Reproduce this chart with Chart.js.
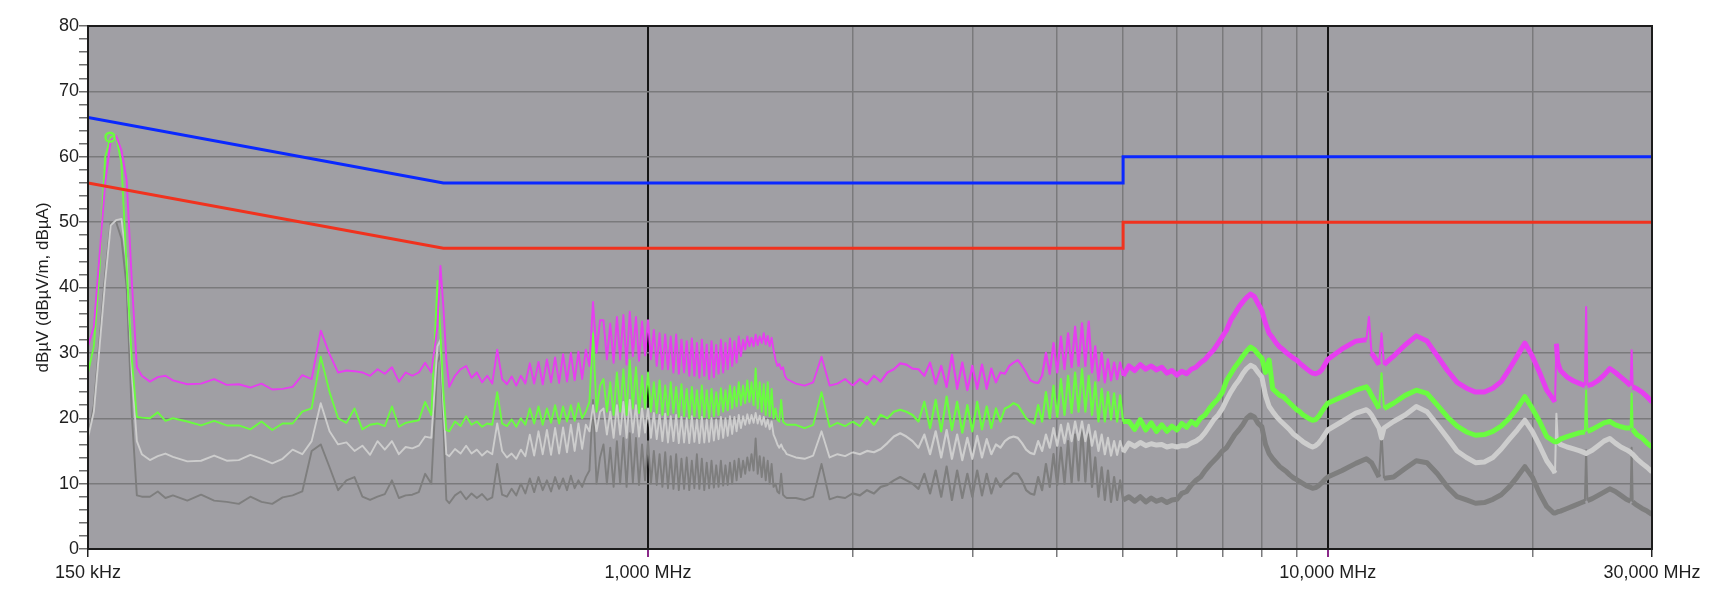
<!DOCTYPE html>
<html>
<head>
<meta charset="utf-8">
<script src="https://cdn.jsdelivr.net/npm/chart.js@4/dist/chart.umd.min.js"></script>
<style>
  body { margin: 0; background: #ffffff; }
  #wrap { width: 1726px; height: 614px; }
</style>
</head>
<body>
<div id="wrap"><canvas id="grafico" width="1726" height="614"></canvas></div>
<script>
// sweep frequencies, MHz
var freq = [
    0.150, 0.153, 0.156, 0.159, 0.162, 0.165, 0.168, 0.171, 0.174, 0.177, 0.180, 0.185, 0.190, 0.195, 0.200,
    0.21, 0.22, 0.23, 0.24, 0.25, 0.26, 0.27, 0.28, 0.29, 0.30, 0.31, 0.32, 0.33, 0.34, 0.35, 0.36, 0.37, 0.38, 0.39, 0.40,
    0.41, 0.42, 0.43, 0.44, 0.45, 0.46, 0.47, 0.48, 0.49, 0.495, 0.50, 0.505, 0.51,
    0.52, 0.53, 0.54, 0.55, 0.56, 0.57, 0.58, 0.59, 0.60, 0.61, 0.62, 0.63, 0.64, 0.65, 0.66, 0.67, 0.68, 0.69, 0.70,
    0.71, 0.72, 0.73, 0.74, 0.75, 0.76, 0.77, 0.78, 0.79, 0.80, 0.81, 0.82, 0.83, 0.84, 0.85,
    0.86, 0.87, 0.88, 0.89, 0.90, 0.91, 0.92, 0.93, 0.94, 0.95, 0.96, 0.97, 0.98, 0.99, 1.00,
    1.01, 1.02, 1.03, 1.04, 1.05, 1.06, 1.07, 1.08, 1.09, 1.10,
    1.11, 1.12, 1.13, 1.14, 1.15, 1.16, 1.17, 1.18, 1.19, 1.20,
    1.21, 1.22, 1.23, 1.24, 1.25, 1.26, 1.27, 1.28, 1.29, 1.30,
    1.31, 1.32, 1.33, 1.34, 1.35, 1.36, 1.37, 1.38, 1.39, 1.40,
    1.41, 1.42, 1.43, 1.44, 1.45, 1.46, 1.47, 1.48, 1.49, 1.50,
    1.51, 1.52, 1.53, 1.54, 1.55, 1.56, 1.57, 1.58, 1.59, 1.60,
    1.65, 1.70, 1.75, 1.80, 1.85, 1.90, 1.95, 2.00,
    2.05, 2.10, 2.15, 2.20, 2.25, 2.30, 2.35, 2.40, 2.45, 2.50, 2.55, 2.60, 2.65, 2.70, 2.75, 2.80, 2.85, 2.90, 2.95, 3.00,
    3.05, 3.10, 3.15, 3.20, 3.25, 3.30, 3.35, 3.40, 3.45, 3.50, 3.55, 3.60, 3.65, 3.70, 3.75, 3.80, 3.85, 3.90, 3.95, 4.00,
    4.05, 4.10, 4.15, 4.20, 4.25, 4.30, 4.35, 4.40, 4.45, 4.50, 4.55, 4.60, 4.65, 4.70, 4.75, 4.80, 4.85, 4.90, 4.95, 5.00,
    5.1, 5.2, 5.3, 5.4, 5.5, 5.6, 5.7, 5.8, 5.9, 6.0,
    6.1, 6.2, 6.3, 6.4, 6.5, 6.6, 6.7, 6.8, 6.9, 7.0,
    7.1, 7.2, 7.3, 7.4, 7.5, 7.6, 7.7, 7.8, 7.9, 8.0,
    8.1, 8.2, 8.3, 8.4, 8.5, 8.6, 8.7, 8.8, 8.9, 9.0,
    9.1, 9.2, 9.3, 9.4, 9.5, 9.6, 9.7, 9.8, 9.9, 10.0,
    10.5, 11, 11.4, 11.5, 11.6, 11.9, 12, 12.1, 12.5, 13,
    13.5, 14, 14.5, 15, 15.5, 16, 16.5, 17, 17.5, 18,
    18.5, 19, 19.5, 20, 20.5, 21, 21.5, 21.6, 21.7, 21.8,
    22, 22.5, 23, 23.5, 23.9, 24, 24.1, 24.5, 25, 25.5,
    26, 26.5, 27, 27.5, 27.9, 28, 28.1, 28.5, 29, 29.5,
    30
];

// magenta trace, dBuV
var peakTrace = [
    31, 34, 45, 56, 62.5, 63.2, 61, 56.4, 41, 27.8, 26.5, 25.6, 26.3, 26.5, 25.8,
    25.2, 25.3, 26, 25.1, 25.2, 24.7, 25.3, 24.4, 24.5, 24.8, 26.6, 26, 33.4, 29.8, 27, 27.3, 27.2, 27, 26.5, 27.5,
    26.8, 27.8, 25.6, 27, 26.5, 27, 28.5, 27, 34, 43.3, 37, 29, 24.8,
    26.5, 27.5, 28, 26.2, 27, 25.5, 26.5, 25.3, 30.5, 26, 25.2, 26.4, 25, 26.5, 25.3, 28.4, 25.3, 28.6, 25.2,
    29, 25.5, 29.3, 25.4, 29.8, 25.6, 30, 25.8, 30.2, 26, 30.5, 28, 37.8, 30, 35,
    35, 29, 34.5, 28.5, 35.5, 29, 35.8, 28.2, 36.3, 29.5, 35.5, 28.8, 34.8, 29.6, 35,
    29, 33.5, 28, 33, 27.5, 32.8, 27.5, 32.5, 27, 32.8,
    26.8, 32, 27, 31.8, 26.5, 32.2, 26.5, 31.5, 26.2, 32,
    26.5, 31.3, 26, 31.8, 26.3, 31.2, 26.8, 32, 27, 31.5,
    27.5, 32.2, 28, 31.8, 28.5, 32.5, 29.5, 32, 30.5, 32.5,
    31, 32.3, 31, 32.8, 31.2, 32.5, 31.5, 33, 31.3, 32.6,
    31, 32.3, 30.5, 29, 28, 28.3, 27.5, 27.8, 26.5, 26,
    25.3, 25, 25.5, 29.4, 25, 25.3, 26, 25,
    26, 25.2, 26.5, 25.6, 27, 27.5, 28.4, 28.2, 27.6, 27.5, 26.5, 28.5, 25.3, 28, 24.8, 29.7, 24.5, 28.5, 24.3, 28,
    24.5, 28.2, 24.5, 27.6, 25.5, 27, 26.8, 28, 28.5, 28.9, 28, 27, 25.8, 25.5, 25.4, 26.5, 30, 26.8, 31.5, 27,
    32.5, 27.5, 33, 27.8, 34, 28, 34.5, 28, 34.8, 27, 31, 25.8, 30, 25.5, 29, 25.8, 28.5, 26, 28.5, 26.5,
    28, 27.3, 28.2, 27.5, 28, 27.4, 27.8, 26.9, 27.3, 26.6,
    27.2, 26.8, 27.5, 27.8, 28.5, 29, 29.8, 30.5, 31.5, 32.5,
    33.5, 35, 36, 37, 37.8, 38.5, 39, 38.6, 37.5, 36.5,
    34.5, 33, 32.3, 31.5, 30.9, 30.5, 30, 29.6, 29.2, 28.9,
    28.4, 28, 27.6, 27.2, 26.9, 26.8, 27, 27.4, 28.2, 29,
    30.6, 31.8, 32, 35.5, 30, 28.2, 33, 28.2, 29.5, 31.2,
    32.6, 31.8, 29.5, 27.3, 25.5, 24.6, 24, 24, 24.6, 25.6,
    27.5, 29.5, 31.5, 29.5, 27, 24.3, 22.8, 22.5, 31.4, 28.5,
    27.3, 26.3, 25.7, 25.3, 25, 37, 25, 25.2, 25.8, 26.6,
    27.6, 27, 26.3, 25.6, 25, 30.4, 24.8, 24.5, 24, 23.3,
    22.5
];

// green trace
var qpTrace = [
    27, 31, 43, 60, 63, 63.2, 59, 43, 29, 20.2, 20.1, 20, 20.9, 19.6, 20,
    19.5, 18.9, 19.6, 18.9, 18.9, 18.3, 19.5, 18.2, 19.2, 19.2, 21, 21.5, 29.4, 24, 20, 19.3, 21.5, 18.3, 19, 19.2,
    18.8, 21.8, 18.7, 19.3, 19.5, 19.7, 22.5, 20.5, 41, 33, 24, 18.2, 18,
    19.5, 18.8, 20.3, 19, 19.5, 18.7, 19.2, 19, 24, 19.2, 18.8, 19.8, 18.7, 20, 19, 21.5, 19.2, 21.8, 19,
    21.5, 19.3, 22, 19.2, 21.8, 19.5, 22, 19.6, 22.3, 20, 21, 22.5, 33, 21, 25,
    26, 21, 25.5, 20.5, 27, 21, 27.5, 20.5, 28.9, 21.5, 27.8, 20.8, 26.5, 21.5, 27,
    21, 25.5, 20.8, 25.8, 20.5, 25, 20.5, 25.5, 20.8, 24.8,
    20.2, 25.2, 20.3, 24.5, 20, 24.8, 20.3, 24.3, 20, 25,
    20.2, 24.3, 20, 24.5, 20.3, 24, 20.5, 24.6, 21, 24.3,
    21.2, 25, 21.5, 24.8, 21.8, 25.5, 22, 25, 22.3, 25.8,
    22.5, 25.5, 22, 27.6, 21.5, 25.5, 21, 25.2, 20.5, 25.5,
    20.3, 24.5, 20, 21.5, 19.8, 19.5, 22.8, 19.5, 19.2, 19,
    19, 18.5, 19, 24, 18.7, 19.3, 18.8, 19.5,
    18.8, 20.2, 19, 20.5, 20, 21, 21.3, 21, 20.5, 19.5, 22.5, 18.5, 22.8, 18, 23.3, 18.2, 22.5, 17.8, 22, 18,
    22.5, 18.3, 21.8, 18.5, 21.5, 19.5, 21.5, 21.8, 22.3, 22, 21, 20, 19.5, 19.2, 22, 19.5, 24, 20, 25, 20.2,
    26, 20.5, 26.5, 20.8, 27, 21, 27.5, 21, 26.5, 20.5, 25.5, 19.5, 24.5, 19.5, 24, 19.8, 23.8, 19.5, 23.5, 19.5,
    19.5, 18.3, 19.8, 18.2, 19.3, 18, 19, 18, 18.8, 18.2,
    19.2, 18.6, 19.5, 19, 20, 20.5, 21.5, 22.3, 23, 24,
    25.8, 26.8, 27.8, 28.6, 29.5, 30.3, 30.9, 30.5, 29.8, 29.2,
    27, 28.9, 24.5, 24, 23.5, 23.3, 22.8, 22.3, 21.8, 21.3,
    21, 20.5, 20.2, 19.9, 19.7, 19.8, 20.3, 21, 21.7, 22.3,
    23.3, 24.3, 24.8, 24.3, 23.5, 21.5, 26.9, 21.5, 22.3, 23.5,
    24.3, 23.8, 22, 20.2, 18.8, 17.9, 17.4, 17.5, 18, 18.8,
    20, 21.5, 23.3, 21.5, 19.5, 17.2, 16.5, 16.4, 16.4, 16.5,
    16.8, 17.2, 17.5, 17.8, 17.9, 24.3, 18, 18.3, 18.8, 19.3,
    19.5, 19, 18.7, 18.5, 18.5, 23.8, 18.3, 17.5, 17, 16.2,
    15.6
];

// light grey trace
var avTrace = [
    17, 21, 31, 41, 49.5, 50.3, 50.5, 44, 27, 16.5, 14.5, 13.6, 14.2, 14.6, 14.1,
    13.4, 13.5, 14.3, 13.5, 13.6, 14.4, 13.8, 13.1, 13.8, 15.2, 14.5, 16.5, 22.3, 18, 16, 16.3, 15, 15.8, 14.4, 16.5,
    15.2, 16.5, 14.5, 15.6, 15.4, 15.8, 17.2, 17, 31, 32, 22, 14.5, 14.2,
    15.3, 14.6, 15.8, 14.6, 15.2, 14.3, 15, 14.5, 19.2, 15, 14, 14.6, 13.8, 15.2, 14.2, 17.5, 14.3, 18, 14.5,
    18.2, 14.4, 18.5, 14.6, 18.6, 14.8, 19, 15, 19.2, 15.3, 19, 18, 22, 18, 21,
    21.5, 17.5, 21, 17, 22, 17.5, 22.5, 17, 22.8, 17.8, 22, 17.2, 21.5, 17.8, 21.5,
    17, 20.8, 16.8, 20.5, 16.5, 20.7, 16.3, 20.3, 16.5, 20.5,
    16.2, 20.2, 16.3, 20, 16.2, 20.3, 16.4, 19.8, 16.2, 20.2,
    16.3, 19.8, 16.4, 20, 16.6, 19.8, 16.8, 20.2, 17, 20,
    17.3, 20.3, 17.6, 20.2, 18, 20.5, 18.5, 20.3, 19, 20.6,
    19.2, 20.5, 19.3, 20.8, 19.2, 20.4, 19, 20.2, 18.7, 19.8,
    18.3, 19.5, 17.5, 16.8, 16, 15.5, 16, 15.3, 15, 14.5,
    14, 13.8, 14.3, 18, 14, 14.5, 14.2, 14.8,
    14.5, 15, 14.8, 15.3, 16.2, 17.2, 17.7, 17.2, 16.5, 15.5, 17.5, 14.5, 18, 14, 18.2, 13.8, 17.5, 13.6, 17, 13.8,
    17.3, 14, 16.8, 14.5, 16, 15.5, 16.5, 17, 17.2, 17, 16.2, 15.2, 14.7, 14.5, 16.5, 15, 17.5, 15.5, 18.5, 15.8,
    19, 16.2, 19.2, 16.5, 19.5, 16.7, 19.5, 16.5, 19, 15.8, 18, 15, 17.5, 14.5, 17, 14.3, 16.5, 14.4, 16.5, 14.8,
    16.2, 15.7, 16.3, 15.8, 16.1, 15.9, 16, 15.6, 15.8, 15.6,
    15.8, 15.8, 16.2, 16.5, 17, 17.8, 18.8, 19.8, 20.5, 21.5,
    22.8, 24, 25, 25.8, 26.8, 27.6, 28.1, 27.8, 27, 26.3,
    23.5, 21.8, 21, 20.3, 19.7, 19.2, 18.7, 18.2, 17.6, 17.2,
    16.8, 16.4, 16.1, 15.8, 15.6, 15.8, 16.2, 16.8, 17.5, 18.2,
    19.5, 20.8, 21.3, 21, 20.5, 18.5, 17, 18.5, 19.5, 20.5,
    21.8, 21, 19, 17, 15, 14, 13.2, 13.3, 14, 15.3,
    16.8, 18.2, 19.7, 18, 15.8, 13.5, 12, 11.6, 20.7, 16.5,
    16, 15.6, 15.3, 15, 14.7, 14.6, 14.7, 15.1, 15.8, 16.5,
    16.9, 16.2, 15.6, 15.2, 14.8, 14.6, 14.5, 13.8, 13.1, 12.5,
    11.8
];

// dark grey trace
var floorTrace = [
    17, 22, 32, 42, 50, 50, 47.5, 40, 20.5, 8.2, 8, 8, 8.8, 7.8, 8.2,
    7.4, 8.3, 7.4, 7.2, 6.9, 8, 7.2, 6.9, 7.9, 8.2, 8.8, 15, 16, 12.5, 9, 10.5, 11, 8, 7.5, 8,
    8.4, 10.5, 7.8, 8.2, 8.3, 8.7, 11.5, 10, 28.5, 29.8, 19, 7.5, 7,
    8.2, 8.8, 7.6, 8.5, 7.8, 8.4, 7.5, 7.9, 13, 8.3, 8, 9.2, 8.2, 10, 8.5, 10.8, 8.7, 11, 9,
    10.5, 8.8, 11, 9.2, 10.8, 9, 11.2, 9.3, 10.5, 9.5, 11, 12, 22.8, 10, 14,
    16, 10, 15.5, 9.5, 16.5, 10, 17, 9.5, 17.7, 10.2, 17, 9.8, 16, 10.5, 16.5,
    10, 15, 9.8, 14.5, 9.5, 14.8, 9.3, 14.2, 9.2, 14.5,
    9, 13.8, 9.2, 14, 9, 13.5, 9.3, 14.5, 9.2, 13.8,
    9, 13.2, 9.3, 13.5, 9.4, 12.8, 9.5, 13.5, 9.7, 12.8,
    9.8, 13.2, 10, 13.5, 10.5, 13.8, 11, 13.5, 11.5, 14,
    12, 14.5, 12, 16.9, 11.5, 14.2, 11, 14, 10.5, 13.5,
    10, 13, 9.5, 10, 8.8, 8.5, 11.5, 8.3, 8, 7.8,
    7.8, 7.5, 8, 13, 7.6, 8, 7.8, 8.5,
    8.2, 9, 8.5, 9.5, 9.8, 10.5, 11, 10.5, 10, 9.2, 11.5, 8.5, 12, 8, 12.6, 7.5, 12, 7.8, 11.5, 8,
    12, 8.2, 11.5, 8.5, 10.8, 9.5, 10.5, 11, 11.6, 11.5, 10.5, 9, 8.5, 8.3, 11, 9, 13, 9.5, 14.5, 9.8,
    15.5, 10, 16.5, 10.2, 17.5, 10.5, 18.7, 10.3, 17.5, 9.5, 14, 8, 12.5, 7.5, 12, 7.2, 11, 7.5, 10.5, 7.5,
    8, 7.3, 8, 7.2, 7.8, 7.3, 7.6, 7.1, 7.5, 7.6,
    8.5, 8.8, 9.8, 10.5, 11, 12, 12.8, 13.5, 14.2, 15,
    15.5, 16.5, 17.5, 18.2, 19, 20, 20.5, 20.2, 19.2, 18.7,
    16, 14.6, 13.8, 13.2, 12.6, 12.2, 11.8, 11.3, 10.9, 10.6,
    10.3, 10, 9.7, 9.5, 9.3, 9.4, 9.7, 10.1, 10.6, 11,
    12, 13.1, 13.8, 13.5, 13.2, 11, 17.7, 10.8, 11, 12.3,
    13.5, 13.2, 11.5, 9.5, 8, 7.5, 7, 7.1, 7.6, 8.3,
    9.5, 11, 12.6, 11, 8.5, 6.5, 5.5, 5.5, 5.6, 5.7,
    5.8, 6.2, 6.6, 7, 7.3, 15.1, 7.4, 7.7, 8.2, 8.7,
    9.2, 8.8, 8.2, 7.6, 7.3, 15.5, 7.2, 6.7, 6.2, 5.8,
    5.3
];

// limit lines
var limitFreq = [0.15, 0.5, 5, 5, 30];
var limitQP = [66, 56, 56, 60, 60];
var limitAV = [56, 46, 46, 50, 50];

// peak marker
var markerFreq = [0.1616];
var markerLevel = [63];

var xTickValues = [0.15, 1, 10, 30];
var xTickText = ['150 kHz', '1,000 MHz', '10,000 MHz', '30,000 MHz'];
var xMinorLines = [2, 3, 4, 5, 6, 7, 8, 9, 20];
var yLabelValues = [0, 10, 20, 30, 40, 50, 60, 70, 80];

var fontFamily = '"Liberation Sans", Arial, Helvetica, sans-serif';

function pts(xs, ys) {
    var out = [];
    for (var i = 0; i < xs.length; i++) {
        out.push({ x: xs[i], y: ys[i] });
    }
    return out;
}

// the traces get fat with noise towards the top of the band,
// single spikes up there stay thin
function traceWidth(ctx) {
    var f = ctx.p0.parsed.x;
    var jump = Math.abs(ctx.p1.parsed.y - ctx.p0.parsed.y);
    if (f >= 10.5 && jump > 3) return 2;
    if (f >= 5) return 5;
    if (f >= 2) return 2.2;
    return 1.9;
}

function trace(values, color) {
    return {
        data: pts(freq, values),
        borderColor: color,
        borderWidth: 1.9,
        borderJoinStyle: 'round',
        pointRadius: 0,
        segment: { borderWidth: traceWidth }
    };
}

var xGridValues = xTickValues.concat(xMinorLines).sort(function(a, b) { return a - b; });

var plotFrame = {
    id: 'plotFrame',
    beforeDraw: function(chart) {
        var a = chart.chartArea;
        var c = chart.ctx;
        c.save();
        c.fillStyle = '#a09fa4';
        c.fillRect(a.left, a.top, a.right - a.left, a.bottom - a.top);
        c.restore();
    },
    afterDraw: function(chart) {
        var a = chart.chartArea;
        var c = chart.ctx;
        c.save();
        c.strokeStyle = '#1c1c1c';
        c.lineWidth = 2;
        c.strokeRect(a.left, a.top, a.right - a.left, a.bottom - a.top);
        c.restore();
    }
};

var canvas = document.getElementById('grafico');
var chart = new Chart(canvas, {
    type: 'line',
    data: {
        datasets: [
            {
                data: pts(markerFreq, markerLevel),
                showLine: false,
                pointRadius: 4.5,
                pointBorderWidth: 2.5,
                pointBorderColor: '#6afc40',
                pointBackgroundColor: 'rgba(0,0,0,0)'
            },
            { data: pts(limitFreq, limitQP), borderColor: '#0a28ff', borderWidth: 3, pointRadius: 0 },
            { data: pts(limitFreq, limitAV), borderColor: '#f0321e', borderWidth: 3, pointRadius: 0 },
            trace(peakTrace, '#e63ef0'),
            trace(qpTrace, '#6afc40'),
            trace(avTrace, '#cdcdcd'),
            trace(floorTrace, '#7e7e7e')
        ]
    },
    options: {
        responsive: false,
        animation: false,
        devicePixelRatio: 1,
        layout: { padding: { left: 0, right: 74, top: 26, bottom: 0 } },
        plugins: {
            legend: { display: false },
            tooltip: { enabled: false }
        },
        scales: {
            x: {
                type: 'logarithmic',
                min: 0.15,
                max: 30,
                afterBuildTicks: function(scale) {
                    scale.ticks = xGridValues.map(function(v) { return { value: v }; });
                },
                afterFit: function(scale) { scale.height = 65; },
                border: { display: false },
                grid: {
                    color: function(ctx) {
                        var v = ctx.tick.value;
                        if (v === 1 || v === 10) return '#151515';
                        if (v === 0.15 || v === 30) return 'rgba(0,0,0,0)';
                        return '#7a7a7c';
                    },
                    lineWidth: function(ctx) {
                        var v = ctx.tick.value;
                        return (v === 1 || v === 10) ? 2 : 1.5;
                    },
                    tickColor: function(ctx) {
                        var v = ctx.tick.value;
                        if (v === 1 || v === 10) return '#8a2a8a';
                        if (v === 0.15 || v === 30) return '#222222';
                        return '#7a7a7c';
                    },
                    tickLength: 8
                },
                ticks: {
                    autoSkip: false,
                    maxRotation: 0,
                    padding: 5,
                    color: '#1e1e1e',
                    font: { family: fontFamily, size: 18 },
                    callback: function(value) {
                        var i = xTickValues.indexOf(value);
                        return i >= 0 ? xTickText[i] : '';
                    }
                }
            },
            y: {
                min: 0,
                max: 80,
                afterFit: function(scale) { scale.width = 88; },
                border: { display: false },
                grid: {
                    color: function(ctx) {
                        var v = ctx.tick.value;
                        return (v % 10 === 0 && v > 0 && v < 80) ? '#7a7a7c' : 'rgba(0,0,0,0)';
                    },
                    lineWidth: 1.5,
                    tickColor: '#6e6e6e',
                    tickLength: 9
                },
                ticks: {
                    stepSize: 2,
                    autoSkip: false,
                    padding: 0,
                    color: '#1e1e1e',
                    font: { family: fontFamily, size: 18 },
                    callback: function(value) {
                        return yLabelValues.indexOf(value) >= 0 ? String(value) : '';
                    }
                },
                title: {
                    display: true,
                    text: 'dBµV (dBµV/m, dBµA)',
                    color: '#1e1e1e',
                    font: { family: fontFamily, size: 17 },
                    padding: { top: 33, bottom: 0 }
                }
            }
        }
    },
    plugins: [plotFrame]
});
</script>
</body>
</html>
